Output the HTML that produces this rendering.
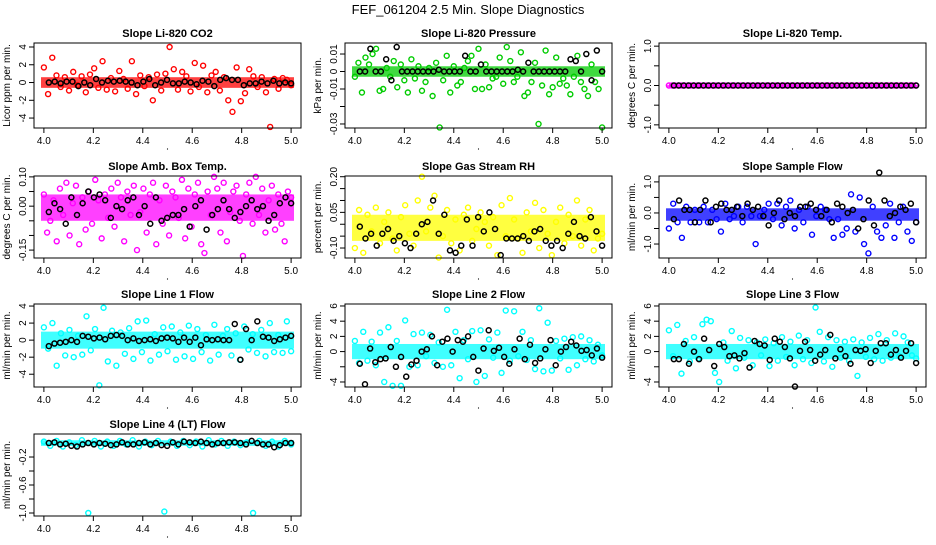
<!DOCTYPE html>
<html><head><meta charset="utf-8"><style>
body{margin:0;background:#fff;width:936px;height:540px;overflow:hidden}
svg{font-family:"Liberation Sans",sans-serif}
</style></head><body>
<svg id="c" width="936" height="540" xmlns="http://www.w3.org/2000/svg">
<text x="468" y="14" text-anchor="middle" font-size="13">FEF_061204  2.5 Min. Slope Diagnostics</text>
</svg>
<script>
const titles=["Slope Li-820 CO2","Slope Li-820 Pressure","Slope Li-820 Temp.","Slope Amb. Box Temp.","Slope Gas Stream RH","Slope Sample Flow","Slope Line 1 Flow","Slope Line 2 Flow","Slope Line 3 Flow","Slope Line 4 (LT) Flow"];
const ylabs=["Licor ppm per min.","kPa per min.","degrees C per min.","degrees C per min.","percent per min.","ml/min per min.","ml/min per min.","ml/min per min.","ml/min per min.","ml/min per min."];
const colors=["#ff0000","#00cc00","#ff00ff","#ff00ff","#ffff00","#0000ff","#00ffff","#00ffff","#00ffff","#00ffff"];
const ylims=[[-5.12,4.45],[-0.0323,0.0163],[-1.08,1.08],[-0.177,0.103],[-0.142,0.203],[-1.45,1.19],[-5.5,4.24],[-4.66,6.26],[-4.66,6.26],[-1.043,0.129]];
const yticks=[[-4,-2,0,2,4],[-0.03,-0.02,-0.01,0,0.01],[-1,-0.5,0,0.5,1],[-0.15,-0.1,-0.05,0,0.05,0.1],[-0.1,-0.05,0,0.05,0.1,0.15,0.2],[-1,-0.5,0,0.5,1],[-4,-2,0,2,4],[-4,-2,0,2,4,6],[-4,-2,0,2,4,6],[-1,-0.8,-0.6,-0.4,-0.2]];
const ytickLabels=[["-4","-2","0","2","4"],["-0.03","","-0.01","0","0.01"],["-1.0","","0.0","","1.0"],["-0.15","","","0.00","","0.10"],["-0.10","","","0.05","","","0.20"],["-1.0","","0.0","","1.0"],["-4","-2","0","2","4"],["-4","","0","2","4","6"],["-4","","0","2","4","6"],["-1.0","","-0.6","","-0.2"]];
const xticks=[4.0,4.2,4.4,4.6,4.8,5.0];
const xtickLabels=["4.0","4.2","4.4","4.6","4.8","5.0"];
const coreBands=[[-0.6,0.6],[-0.003,0.003],[-0.01,0.01],[-0.05,0.04],[-0.07,0.04],[-0.25,0.15],[-1,1],[-1,1],[-1,1],[-0.04,0.04]];
const colored=[
[1.7,-1.3,2.8,0.8,-0.5,0.6,-0.9,1.2,-0.3,0.7,-1.1,0.9,1.6,-0.6,2.4,-0.8,0.5,-1.0,1.3,0.4,-0.7,2.4,-1.3,0.8,-0.4,0.6,-2.0,0.9,-0.9,1.0,4.0,1.5,-0.8,1.2,0.7,-1.0,2.2,-0.5,1.9,-1.1,0.8,1.2,-0.9,0.6,-2.0,-3.3,1.7,-2.1,-1.2,1.5,0.7,-0.5,0.6,-1.1,-5.0,0.4,-0.7,0.5,0.3,-0.3],
[-0.003,0.005,-0.012,0.008,0.004,0.010,0.013,-0.011,-0.010,0.002,-0.003,0.006,-0.009,0.004,-0.005,-0.012,0.007,-0.004,0.003,-0.011,-0.006,0.002,-0.014,0.005,-0.032,-0.005,0.009,-0.012,0.003,-0.008,-0.006,0.002,0.006,0.009,-0.010,0.013,-0.010,0.004,-0.009,-0.004,-0.003,0.008,-0.007,0.014,0.006,-0.006,-0.003,0.011,-0.014,-0.012,-0.006,0.005,-0.030,-0.008,0.012,-0.013,-0.009,0.008,-0.007,-0.004,-0.008,-0.013,-0.003,0.009,-0.006,-0.010,-0.014,0.004,-0.006,-0.010,-0.032],
[0,0,0,0,0,0,0,0,0,0,0,0,0,0,0,0,0,0,0,0,0,0,0,0,0,0,0,0,0,0,0,0,0,0,0,0,0,0,0,0,0,0,0,0,0,0,0,0,0,0,0,0,0,0,0,0,0,0,0,0,0,0,0,0,0,0,0,0,0,0,0,0,0,0,0,0,0,0,0,0],
[0.04,-0.09,-0.05,0.02,-0.12,0.06,-0.03,0.08,-0.10,0.01,0.07,-0.13,0.03,-0.08,0.05,-0.06,0.09,0.02,-0.11,0.04,-0.04,0.06,-0.07,0.08,0.03,-0.12,0.05,-0.03,0.07,-0.15,-0.02,0.06,-0.09,0.04,0.08,-0.13,0.02,-0.06,0.07,-0.10,0.05,0.03,-0.04,0.09,-0.11,0.06,-0.07,0.04,0.08,-0.13,-0.16,0.05,-0.03,0.10,0.06,-0.09,0.08,-0.12,-0.02,0.05,0.07,-0.05,-0.17,0.04,0.08,-0.06,0.10,-0.03,0.06,-0.09,0.02,0.07,-0.08,0.04,-0.06,-0.12,0.05,0.03],
[-0.10,0.06,-0.12,0.04,-0.03,0.07,-0.08,0.01,0.05,-0.06,-0.11,0.03,0.08,-0.04,-0.09,0.10,0.20,-0.03,0.07,0.12,-0.14,-0.05,0.06,-0.08,0.02,-0.11,0.04,0.07,-0.07,-0.02,0.05,0.01,-0.09,0.03,-0.13,0.08,-0.05,0.11,0.02,-0.06,-0.12,0.05,-0.03,0.09,-0.10,0.06,-0.04,-0.13,0.01,0.07,-0.08,0.04,-0.05,0.10,-0.09,0.02,0.06,-0.11,-0.06,-0.04],
[-0.5,0.3,-0.3,-0.8,0.2,-0.3,0.1,-0.3,0.2,-0.3,0.1,-0.2,-0.6,0.3,-0.2,-0.1,0.2,-0.3,0.2,-0.1,-1.0,-0.1,0.1,0.3,-0.2,0.3,-0.4,0.2,0.4,-0.5,0.1,-0.3,0.2,-0.7,-0.1,0.2,0.1,-0.2,-0.8,-0.2,-0.7,-0.5,0.6,-0.6,0.5,-1.0,-1.3,0.2,-0.6,-0.8,-0.4,0.3,-0.8,-0.3,0.2,-0.6,-0.9,-0.3],
[1.5,-1,2,-3,0.8,-1.8,1.2,-2,0.5,-1.7,2.8,-1.2,1.3,-5.3,3.8,-2.5,1.1,-3,0.9,-1.6,1.4,-2.2,2.2,-1.4,2.3,-2.4,0.7,-1.7,1.5,-1.3,1.6,-2.3,0.9,-1.9,1.7,-2.2,1.3,-1.4,0.6,-2.4,1.8,-1.7,0.5,1.3,-1.8,0.8,-2.3,1.6,-1.1,0.7,-1.5,1.2,-1.9,2.0,-1.4,0.6,-1.5,2.2,-1.3],
[1.4,-1.5,2.6,-1.2,1.3,-1.8,2.5,-4.0,3.2,-4.5,1.4,-4.5,4.1,-2.0,2.3,-1.8,2.5,-0.6,2.2,-1.5,1.2,-2.0,5.5,-1.8,2.6,-3.5,1.5,-1.0,2.7,-4.0,2.8,-3.2,1.6,-0.8,2.5,-2.8,5.4,-1.2,5.3,-0.6,2.6,-1.1,1.5,-2.3,5.7,-2.6,3.8,-2.5,1.4,-0.9,1.7,-2.4,1.9,-1.8,2.0,-1.0,1.5,-1.3,0.9,-0.5],
[2.8,-0.6,3.5,-2.9,1.4,-1.3,1.9,-0.9,3.6,4.2,4.0,-2.8,-4.0,1.2,-1.2,2.7,-2.2,1.8,-0.8,1.5,-1.8,1.2,-0.5,1.6,-1.9,1.1,-1.2,1.9,-0.7,1.3,-1.8,2.1,-1.0,1.5,-1.5,5.8,2.6,-1.3,1.9,-2.0,1.5,-0.8,1.3,-1.2,1.6,-3.2,1.2,-0.7,1.8,-1.0,2.3,-1.2,1.5,-0.8,2.4,-0.6,2.0,1.2,-0.5,-0.9],
[0.02,-0.04,0.03,-0.05,0.01,-0.03,0.04,-1.0,0.03,-0.05,0.02,-0.04,0.03,-0.02,0.04,-0.05,0.02,-0.03,0.03,-0.98,0.02,-0.04,0.03,-0.03,0.02,-0.05,0.04,-0.02,0.03,-0.04,0.02,-0.03,0.01,-1.0,0.03,-0.04,0.02,-0.05,0.03,-0.02]
];
const black=[
[0,0.1,-0.1,0.1,0.1,-0.4,0,-0.3,0.4,0,0.2,0.1,0.2,0.1,0,-0.3,0.1,0.4,-0.3,0,0.3,-0.1,-0.1,0.1,0,-0.2,0.2,0.1,-0.4,0.3,0.5,0.3,0.3,-0.3,-0.1,-0.1,0.1,-0.1,0.2,-0.1,0,-0.1],
[0,0,0.013,0,0,0.007,-0.005,0.014,0,0,0,0,0,0,0,0.001,0,0,0,0,0.009,0,0,0.004,0,0,0,0,0,0,0.001,0,0.005,0,0,0,0,0,0,0,0.007,0.006,0,0.010,-0.005,0.012,0],
[0,0,0,0,0,0,0,0,0,0,0,0,0,0,0,0,0,0,0,0,0,0,0,0,0,0,0,0,0,0,0,0,0,0,0,0,0,0,0,0,0,0,0,0,0,0,0,0,0,0],
[-0.02,0.01,-0.01,-0.06,0.03,-0.03,0.01,0.05,0.03,0.04,0.02,-0.04,0,-0.01,0.02,0.03,-0.03,0,-0.06,0.03,-0.05,-0.04,-0.03,-0.03,-0.01,-0.07,0,0.02,-0.08,-0.03,-0.01,0.02,-0.01,-0.04,-0.02,0,0.02,-0.01,0,-0.05,-0.03,0.01,0.03,0.01],
[-0.01,-0.06,-0.04,-0.09,-0.04,-0.02,-0.07,-0.05,-0.08,-0.10,-0.04,0,0.01,0.10,-0.04,0.04,-0.11,-0.12,-0.09,0.02,-0.09,0.03,-0.03,0.05,-0.02,-0.13,-0.06,-0.06,-0.06,-0.05,-0.07,-0.03,-0.02,-0.07,-0.09,-0.07,-0.10,-0.04,0.01,-0.05,-0.06,0.03,-0.03,-0.09],
[-0.2,0.4,0.1,0.1,-0.3,0.1,0.4,-0.3,0.2,0.3,0.1,0.1,0.2,-0.1,0.3,0.1,0.2,-0.1,-0.4,0,0.4,-0.2,0,-0.1,0.2,0.2,0.3,0.1,-0.1,0.1,-0.3,0.3,0.2,0,0.1,-0.5,-0.2,0.4,-0.4,1.3,0.4,-0.1,0,0.2,0.1,0.3,-0.3],
[-0.7,-0.4,-0.3,-0.2,0,-0.2,0.5,0.4,0.2,0.3,0.1,0.5,0.6,0.5,0,0.2,-0.1,0,0.1,-0.1,0.2,0.3,0.2,-0.2,0.3,-0.2,0.3,-0.6,0.1,0,0.1,0,0,1.9,-2.3,1.3,0,2.2,0.4,0.3,-0.1,0.1,0.3,0.5],
[-1.6,-4.3,0.4,-1.4,-1.0,-0.9,0.6,-2.0,-0.7,-3.3,-1.7,-1.2,0,0.3,2.0,-1.8,1.3,1.7,0,1.5,1.3,2.0,-0.7,-2.5,0.4,2.8,0.1,0.5,-0.7,-1.6,0.3,1.7,-1.0,0.9,-1.5,-0.9,0.3,1.5,-1.8,0,0.6,1.3,0.8,0.1,0.2,-0.5,0.4,-0.8],
[-1.0,-1.0,1.0,-1.6,0,-1.0,1.7,0.2,-1.9,1.0,0.6,-0.6,-0.5,-0.9,-0.2,-2.1,1.4,1.0,0.8,-1.1,1.7,1.3,0.6,-0.9,-4.6,0.1,1.3,0.2,-1.2,-0.4,0.2,2.2,-0.9,0.3,-0.6,-1.6,0.2,0.1,0.3,-1.5,0.1,1.1,1.1,-0.4,0.2,-0.8,0.1,1.1,-1.5],
[0,0.01,-0.02,-0.01,-0.04,-0.05,-0.02,0,-0.02,0,-0.01,-0.03,-0.02,0.01,-0.02,-0.02,0,0.01,-0.02,0,-0.03,-0.04,0.01,-0.02,0.02,0.01,0,0.02,0,-0.02,0,0,0.01,0.01,0,-0.02,0.03,0,-0.02,-0.02,-0.06,-0.03,0,0]
];
const NS="http://www.w3.org/2000/svg";
const svg=document.getElementById('c');
const colLeft=[34,345,659], rowTop=[43,176,304,434], rowBot=[128,258,387,516], W=267;
function mk(tag,attrs,parent){const e=document.createElementNS(NS,tag);for(const k in attrs)e.setAttribute(k,attrs[k]);parent.appendChild(e);return e;}
for(let p=0;p<10;p++){
  const L=colLeft[p%3],T=rowTop[Math.floor(p/3)],B=rowBot[Math.floor(p/3)];
  const g=mk('g',{},svg);
  
  
  const xs=v=>L+((v-3.96)/1.08)*W;
  const [y0,y1]=ylims[p];
  const ys=v=>B-((v-y0)/(y1-y0))*(B-T);
  const t=mk('text',{x:L+W/2,y:T-6,'text-anchor':'middle','font-size':'11','font-weight':'bold'},g);
  t.textContent=titles[p];
  
  
  const band=mk('rect',{x:L+7,y:ys(coreBands[p][1]),width:W-14,height:Math.max(2,ys(coreBands[p][0])-ys(coreBands[p][1])),fill:colors[p],opacity:0.75},g);
  
  
  const cv=colored[p];
  cv.forEach((v,i)=>{
    const c=mk('circle',{cx:xs(4+i/(cv.length-1)),cy:ys(v),r:2.5,fill:'none',stroke:colors[p],'stroke-width':1.4},g);
    
    
  });
  const bv=black[p];
  bv.forEach((v,i)=>{
    const c=mk('circle',{cx:xs(4.02+0.98*i/(bv.length-1)),cy:ys(v),r:2.5,fill:'none',stroke:'#000','stroke-width':1.5},g);
    
    
  });
  const box=mk('rect',{x:L,y:T,width:W,height:B-T,fill:'none',stroke:'#000','stroke-width':1},g);
  
  
  xticks.forEach((v,i)=>{
    mk('line',{x1:xs(v),x2:xs(v),y1:B,y2:B+5,stroke:'#000'},g);
    const l=mk('text',{x:xs(v),y:B+16,'text-anchor':'middle','font-size':'10'},g);
    l.textContent=xtickLabels[i];
    
    
  });
  mk('circle',{cx:L+W/2,cy:B+21,r:0.6,fill:'#000'},g);
  yticks[p].forEach((v,i)=>{
    mk('line',{x1:L-5,x2:L,y1:ys(v),y2:ys(v),stroke:'#000'},g);
    if(ytickLabels[p][i]){
      const l=mk('text',{x:0,y:0,'text-anchor':'middle','font-size':'10',transform:`translate(${L-8},${ys(v)}) rotate(-90)`},g);
      l.textContent=ytickLabels[p][i];
      
      
    }
  });
  const yl=mk('text',{x:0,y:0,'text-anchor':'middle','font-size':'10',transform:`translate(${L-24},${(T+B)/2}) rotate(-90)`},g);
  yl.textContent=ylabs[p];
  
  
}
</script>
</body></html>
